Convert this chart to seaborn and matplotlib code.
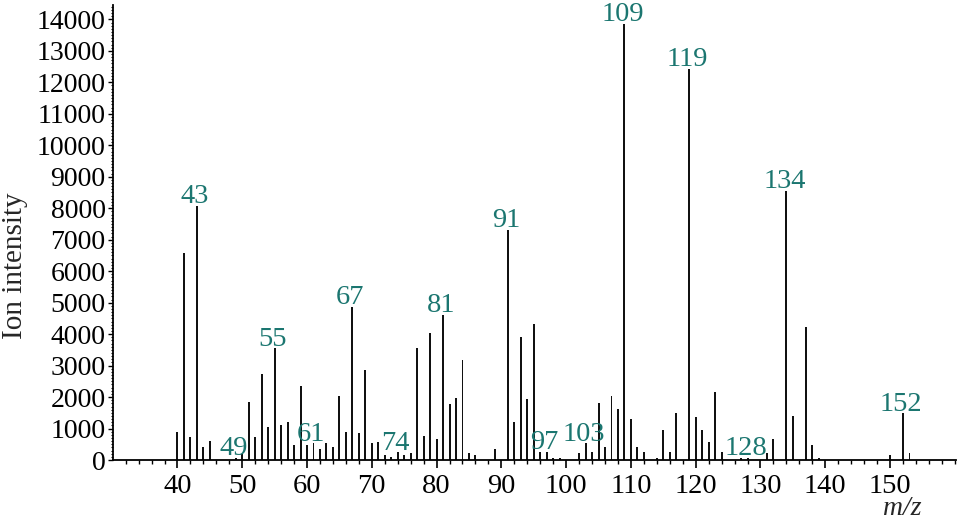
import numpy as np
import pandas as pd
import matplotlib.pyplot as plt
import seaborn as sns

# Масс-спектр: m/z и интенсивности
mz = [40, 41, 42, 43, 44, 45, 49, 50, 51, 52, 53, 54, 55, 56, 57, 58, 59,
      60, 61, 62, 63, 64, 65, 66, 67, 68, 69, 70, 71, 72, 73, 74, 75, 76,
      77, 78, 79, 80, 81, 82, 83, 84, 85, 86, 89, 91, 92, 93, 94, 95, 96,
      97, 98, 99, 102, 103, 104, 105, 106, 107, 108, 109, 110, 111, 112,
      114, 115, 116, 117, 119, 120, 121, 122, 123, 124, 127, 128, 131, 132,
      134, 135, 137, 138, 139, 150, 152, 153]
intensity = [900, 6580, 720, 8070, 420, 600, 80, 200, 1850, 720, 2730, 1040,
             3550, 1100, 1220, 470, 2350, 470, 530, 350, 530, 400, 2030, 900,
             4870, 850, 2860, 530, 580, 160, 90, 240, 160, 210, 3550, 770,
             4050, 660, 4600, 1780, 1980, 3170, 210, 160, 350, 7320, 1220,
             3910, 1930, 4320, 260, 260, 70, 70, 210, 530, 260, 1800, 420,
             2040, 1610, 13860, 1290, 420, 260, 50, 970, 260, 1480, 12430,
             1360, 970, 580, 2170, 260, 70, 70, 210, 660, 8550, 1410, 4230,
             470, 70, 160, 1480, 210]

# Подписанные пики
peak_labels = [43, 49, 55, 61, 67, 74, 81, 91, 97, 103, 109, 119, 128, 134, 152]

x_major = list(range(40, 151, 10))

df = pd.DataFrame({'mz': mz, 'intensity': intensity})
teal = '#1b7670'

sns.set_theme(style='ticks')
plt.rcParams['font.family'] = ['Liberation Serif', 'DejaVu Serif']

fig = plt.figure(figsize=(9.59, 5.21), dpi=100)
ax = fig.add_axes([0.1175, 0.117, 0.8795, 0.873])

sns.barplot(data=df, x='mz', y='intensity', native_scale=True, width=0.3,
            color='#111111', saturation=1, errorbar=None, linewidth=0, ax=ax)

ax.set_xlim(30, 160.2)
ax.set_ylim(0, 14450)
ax.set_xticks(x_major)
ax.set_xticks(range(32, 161, 2), minor=True)
ax.set_yticks(range(0, 14001, 1000))
ax.set_yticks(range(0, 14401, 100), minor=True)
ax.set_xlabel('')
ax.set_ylabel('')

sns.despine(ax=ax)
for side in ['left', 'bottom']:
    ax.spines[side].set_linewidth(1.3)
    ax.spines[side].set_color('black')

ax.tick_params(axis='x', which='major', length=6, width=1.2, direction='out',
               labelsize=20.5, pad=4, colors='black')
ax.tick_params(axis='x', which='minor', length=3, width=1, colors='black')
ax.tick_params(axis='y', which='major', length=3.6, width=1, direction='out',
               labelsize=20, pad=1.5, colors='black')
ax.tick_params(axis='y', which='minor', length=1.8, width=0.8, colors='black')

lookup = dict(zip(mz, intensity))
for m in peak_labels:
    ax.annotate(str(m), xy=(m, lookup[m]), xytext=(-1.5, 2),
                textcoords='offset points', ha='center', va='baseline',
                color=teal, fontsize=20.5)

fig.text(15 / 959, 1 - 266 / 521, 'Ion intensity', rotation=90,
         ha='center', va='center', fontsize=21)
fig.text(902 / 959, 1 - 515 / 521, 'm/z', style='italic',
         ha='center', va='baseline', fontsize=20)

fig.savefig('out.png', dpi=100)
